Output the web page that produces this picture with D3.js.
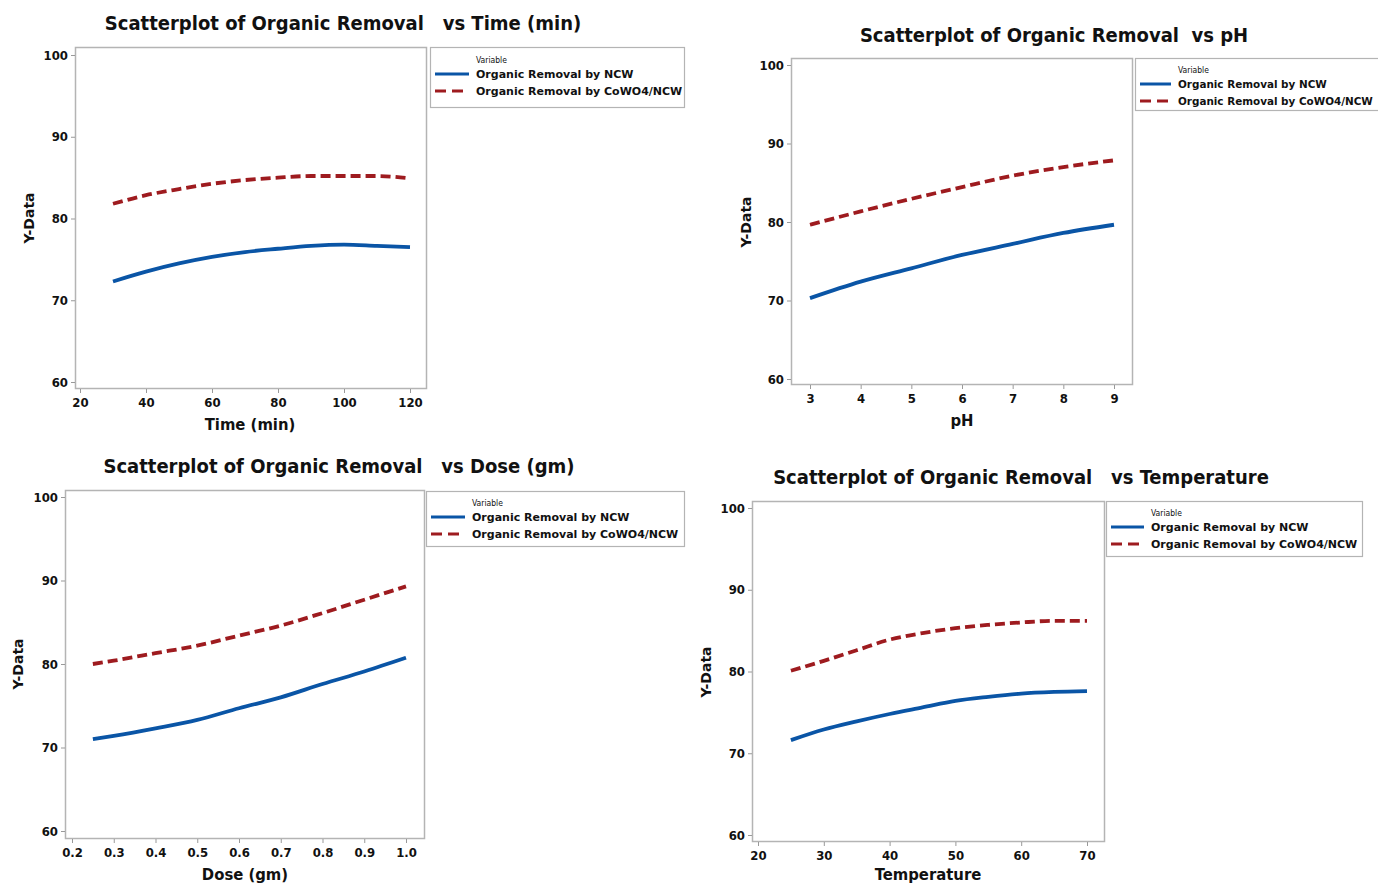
<!DOCTYPE html>
<html>
  <head>
    <meta charset="utf-8" />
    <title>Scatterplot of Organic Removal</title>
    <script src="https://d3js.org/d3.v7.min.js"></script>
    <style>
      body { margin: 0; background: #fff; }
      text { fill: #111; }
      .cond { font-family: 'DejaVu Sans Condensed', 'DejaVu Sans', sans-serif; font-stretch: condensed; font-weight: bold; }
      .wide { font-family: 'DejaVu Sans', sans-serif; font-weight: bold; }
    </style>
  </head>
  <body>
    <script>
      // values
      const seriesNames = ['Organic Removal by NCW', 'Organic Removal by CoWO4/NCW'];
      const yTicks = [60, 70, 80, 90, 100];

      const timeX = [30, 40, 50, 60, 70, 80, 90, 100, 110, 120];
      const timeNCW = [72.3, 73.5, 74.5, 75.3, 75.9, 76.3, 76.65, 76.8, 76.65, 76.5];
      const timeCoWO4 = [81.8, 82.85, 83.6, 84.25, 84.7, 85.0, 85.2, 85.2, 85.2, 84.9];
      const timeTicks = [20, 40, 60, 80, 100, 120];

      const phX = [3, 4, 5, 6, 7, 8, 9];
      const phNCW = [70.3, 72.4, 74.1, 75.8, 77.2, 78.6, 79.65];
      const phCoWO4 = [79.65, 81.35, 82.95, 84.45, 85.9, 87.0, 87.85];
      const phTicks = [3, 4, 5, 6, 7, 8, 9];

      const doseX = [0.25, 0.3, 0.4, 0.5, 0.6, 0.7, 0.8, 0.9, 1.0];
      const doseNCW = [71.0, 71.4, 72.3, 73.3, 74.7, 76.0, 77.6, 79.1, 80.75];
      const doseCoWO4 = [80.0, 80.4, 81.3, 82.2, 83.4, 84.6, 86.1, 87.7, 89.3];
      const doseTicks = [0.2, 0.3, 0.4, 0.5, 0.6, 0.7, 0.8, 0.9, 1.0];

      const tempX = [25, 30, 35, 40, 45, 50, 55, 60, 65, 70];
      const tempNCW = [71.6, 72.9, 73.9, 74.8, 75.6, 76.4, 76.9, 77.3, 77.5, 77.6];
      const tempCoWO4 = [80.1, 81.3, 82.6, 83.9, 84.7, 85.3, 85.7, 86.0, 86.2, 86.2];
      const tempTicks = [20, 30, 40, 50, 60, 70];

      // layout of the four panels (pixel geometry)
      const panels = [
        { title: 'Scatterplot of Organic Removal\u00a0\u00a0\u00a0vs Time (min)', xlab: 'Time (min)',
          x: timeX, a: timeNCW, b: timeCoWO4, ticks: timeTicks, fmt: d3.format('d'),
          box: [75, 47, 426, 388], xr: [80, 410], yr: [382, 55],
          tx: 343, ty: 30, lx: 250, ly: 430, yx: 34, yy: 218,
          leg: [430, 47, 684, 107], legY: 60, legFs: 11, legTx: 46 },
        { title: 'Scatterplot of Organic Removal\u00a0\u00a0vs pH', xlab: 'pH',
          x: phX, a: phNCW, b: phCoWO4, ticks: phTicks, fmt: d3.format('d'),
          box: [791, 58, 1132, 384], xr: [810, 1114], yr: [379, 65],
          tx: 1054, ty: 42, lx: 962, ly: 426, yx: 751, yy: 222,
          leg: [1135, 58, 1382, 110], legY: 70, legFs: 10.4, legTx: 43 },
        { title: 'Scatterplot of Organic Removal\u00a0\u00a0\u00a0vs Dose (gm)', xlab: 'Dose (gm)',
          x: doseX, a: doseNCW, b: doseCoWO4, ticks: doseTicks, fmt: d3.format('.1f'),
          box: [65, 490, 424, 838], xr: [72, 406], yr: [831, 497],
          tx: 339, ty: 473, lx: 245, ly: 880, yx: 23, yy: 664,
          leg: [426, 491, 684, 546], legY: 503, legFs: 11, legTx: 46 },
        { title: 'Scatterplot of Organic Removal\u00a0\u00a0\u00a0vs Temperature', xlab: 'Temperature',
          x: tempX, a: tempNCW, b: tempCoWO4, ticks: tempTicks, fmt: d3.format('d'),
          box: [752, 501, 1104, 841], xr: [758, 1087], yr: [835, 508],
          tx: 1021, ty: 484, lx: 928, ly: 880, yx: 711, yy: 672,
          leg: [1106, 501, 1362, 556], legY: 513, legFs: 11, legTx: 45 },
      ];

      const colors = ['#0a55a6', '#9e1b1f'];
      const dashes = [null, '10,5'];

      const svg = d3.select('body').append('svg').attr('width', 1378).attr('height', 885);

      panels.forEach((p) => {
        const g = svg.append('g');
        const x = d3.scaleLinear().domain([p.ticks[0], p.ticks[p.ticks.length - 1]]).range(p.xr);
        const y = d3.scaleLinear().domain([60, 100]).range(p.yr);
        const [x0, y0, x1, y1] = p.box;

        g.append('rect')
          .attr('x', x0 + 0.5).attr('y', y0 + 0.5)
          .attr('width', x1 - x0).attr('height', y1 - y0)
          .attr('fill', 'none').attr('stroke', '#b4b4b4').attr('stroke-width', 1.5);

        const ax = g.append('g').attr('transform', 'translate(0,' + (y1 + 1) + ')')
          .call(d3.axisBottom(x).tickValues(p.ticks).tickFormat(p.fmt).tickSize(4).tickPadding(5));
        const ay = g.append('g').attr('transform', 'translate(' + x0 + ',0)')
          .call(d3.axisLeft(y).tickValues(yTicks).tickSize(4).tickPadding(3));
        [ax, ay].forEach((a) => {
          a.select('.domain').remove();
          a.selectAll('.tick line').attr('stroke', '#999');
          a.selectAll('.tick text').attr('class', 'cond').style('font-size', '13px').attr('fill', '#111');
        });

        const line = d3.line().x((d) => x(d[0])).y((d) => y(d[1])).curve(d3.curveMonotoneX);
        [p.a, p.b].forEach((vals, i) => {
          g.append('path')
            .datum(p.x.map((v, j) => [v, vals[j]]))
            .attr('d', line)
            .attr('fill', 'none')
            .attr('stroke', colors[i])
            .attr('stroke-width', 3.8)
            .attr('stroke-dasharray', dashes[i]);
        });

        g.append('text').attr('class', 'cond').attr('x', p.tx).attr('y', p.ty)
          .attr('text-anchor', 'middle').style('font-size', '20px').text(p.title);
        g.append('text').attr('class', 'cond').attr('x', p.lx).attr('y', p.ly)
          .attr('text-anchor', 'middle').style('font-size', '16.5px').text(p.xlab);
        g.append('text').attr('class', 'wide')
          .attr('transform', 'translate(' + p.yx + ',' + p.yy + ') rotate(-90)')
          .attr('text-anchor', 'middle').style('font-size', '14px').text('Y-Data');

        // legend
        const [l0, m0, l1, m1] = p.leg;
        g.append('rect')
          .attr('x', l0 + 0.5).attr('y', m0 + 0.5)
          .attr('width', l1 - l0).attr('height', m1 - m0)
          .attr('fill', '#fff').attr('stroke', '#b4b4b4').attr('stroke-width', 1.2);
        g.append('text').attr('x', l0 + p.legTx).attr('y', p.legY + 3)
          .style('font-family', "'DejaVu Sans Condensed', 'DejaVu Sans', sans-serif")
          .style('font-stretch', 'condensed')
          .style('font-size', '8.5px').attr('fill', '#555').text('Variable');
        seriesNames.forEach((name, i) => {
          const yy = p.legY + 14 + i * 17;
          g.append('line')
            .attr('x1', l0 + 5).attr('x2', l0 + p.legTx - 7).attr('y1', yy).attr('y2', yy)
            .attr('stroke', colors[i]).attr('stroke-width', 3)
            .attr('stroke-dasharray', i ? '11,6' : null);
          g.append('text').attr('class', 'wide').attr('x', l0 + p.legTx).attr('y', yy + 4)
            .style('font-size', p.legFs + 'px').text(name);
        });
      });
    </script>
  </body>
</html>
